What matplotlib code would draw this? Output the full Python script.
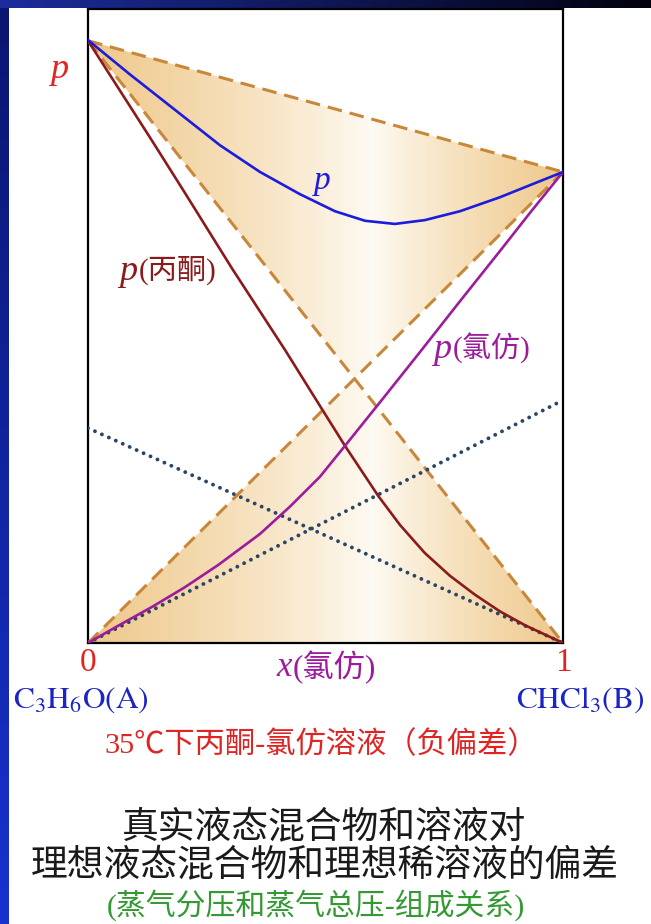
import numpy as np
import matplotlib
matplotlib.use("Agg")
import matplotlib.pyplot as plt
from matplotlib.path import Path
from matplotlib.patches import PathPatch
from matplotlib.colors import to_rgb

# ---------------- data (p in % of frame height, x = mole fraction of CHCl3) -------------
pA_star = 95.0      # pure acetone
pB_star = 74.3      # pure chloroform
kA_henry = 33.9     # Henry line for acetone (value at x=0)
kB_henry = 38.3     # Henry line for chloroform (value at x=1)

x_total = [0.0, 0.088, 0.183, 0.278, 0.362, 0.446, 0.520, 0.583, 0.646, 0.709, 0.783, 0.867, 0.930, 1.0]
p_total = [95.1, 89.7, 84.1, 78.5, 74.3, 70.8, 68.1, 66.6, 66.1, 66.7, 68.1, 70.3, 72.2, 74.3]

x_acet = [0.0, 0.135, 0.204, 0.303, 0.415, 0.495, 0.541, 0.611, 0.657, 0.709, 0.762, 0.815, 0.867, 0.920, 1.0]
p_acet = [95.0, 79.2, 71.0, 59.1, 46.2, 36.6, 31.1, 23.2, 18.6, 14.2, 10.6, 7.6, 5.0, 2.8, 0.0]

x_chlf = [0.0, 0.063, 0.135, 0.204, 0.274, 0.362, 0.425, 0.488, 0.541, 0.615, 0.699, 0.783, 0.867, 0.930, 1.0]
p_chlf = [0.0, 2.7, 5.7, 8.8, 12.3, 17.2, 21.5, 26.2, 31.1, 38.0, 45.9, 53.9, 61.8, 67.8, 74.3]

W, H = 651, 924
fig = plt.figure(figsize=(W / 100, H / 100), dpi=100)
fig.patch.set_facecolor("white")

# ---------------- slide border bands ----------------
ax_top = fig.add_axes([0, 1 - 8 / H, 1, 8 / H])
g = np.linspace(0, 1, 256)
c1, c2 = np.array(to_rgb("#1c2c9c")), np.array(to_rgb("#02020e"))
ax_top.imshow((c1[None, :] * (1 - g[:, None]) + c2[None, :] * g[:, None])[None, :, :],
              aspect="auto", extent=[0, 1, 0, 1])
ax_top.axis("off")
ax_left = fig.add_axes([0, 0, 9 / W, 1 - 8 / H])
c3, c4 = np.array(to_rgb("#0a1670")), np.array(to_rgb("#1832d0"))
ax_left.imshow((c3[None, :] * (1 - g[:, None]) + c4[None, :] * g[:, None])[:, None, :],
               aspect="auto", extent=[0, 1, 0, 1])
ax_left.axis("off")

# ---------------- main axes ----------------
ax = fig.add_axes([88 / W, 1 - 643 / H, 475 / W, 634 / H])
ax.set_xlim(0, 1)
ax.set_ylim(0, 100)
ax.set_xticks([])
ax.set_yticks([])
for s in ax.spines.values():
    s.set_linewidth(1.6)
    s.set_color("black")

# ideal lines crossing
xc = pA_star / (pA_star + pB_star)
pc = pB_star * xc

# shaded regions (gradient clipped to the two triangles)
verts_up = [(0, pA_star), (1, pB_star), (xc, pc), (0, pA_star)]
verts_lo = [(0, 0), (xc, pc), (1, 0), (0, 0)]
path = Path.make_compound_path(Path(verts_up, closed=True), Path(verts_lo, closed=True))
patch = PathPatch(path, transform=ax.transData, facecolor="none", edgecolor="none")
ax.add_patch(patch)
xx = np.linspace(0, 1, 400)
yy = np.linspace(0, 1, 200)
XX, YY = np.meshgrid(xx, yy)
cen = 0.60
t = np.where(XX < cen, (cen - XX) / cen, (XX - cen) / (1 - cen))
t = np.clip(t, 0, 1) ** 0.85
edge = np.array(to_rgb("#efc88a"))
mid = np.array(to_rgb("#fefbf4"))
img = mid[None, None, :] * (1 - t[..., None]) + edge[None, None, :] * t[..., None]
im = ax.imshow(img, extent=[0, 1, 0, 100], aspect="auto", origin="lower", zorder=1)
im.set_clip_path(patch)

dash_col = "#c8873a"
dash = (0, (4.8, 2.6))
ax.plot([0, 1], [pA_star, pB_star], color=dash_col, lw=2.2, ls=dash, zorder=3)
ax.plot([0, 1], [pA_star, 0], color=dash_col, lw=2.2, ls=dash, zorder=3)
ax.plot([0, 1], [0, pB_star], color=dash_col, lw=2.2, ls=dash, zorder=3)

# Henry lines (dotted)
dot_col = "#2a4566"
ax.plot([0, 1], [kA_henry, 0], color=dot_col, lw=2.8, ls=(0, (0.01, 1.95)),
        dash_capstyle="round", zorder=4)
ax.plot([0, 1], [0, kB_henry], color=dot_col, lw=2.8, ls=(0, (0.01, 1.95)),
        dash_capstyle="round", zorder=4)

# real curves
ax.plot(x_acet, p_acet, color="#8b1a1a", lw=1.9, zorder=5, solid_joinstyle="round")
ax.plot(x_chlf, p_chlf, color="#9c1c9c", lw=1.9, zorder=5, solid_joinstyle="round")
ax.plot(x_total, p_total, color="#1c1cdc", lw=1.9, zorder=5, solid_joinstyle="round")

# ---------------- texts ----------------
def ftxt(x, y, s, **kw):
    fig.text(x / W, 1 - y / H, s, **kw)

serif_it = dict(family="Liberation Serif", style="italic")
mixed = dict(family=["Liberation Serif", "Noto Sans CJK SC"])

ftxt(59, 70, "p", color="#e52222", fontsize=26, ha="center", va="center", **serif_it)
ftxt(322, 181, "p", color="#1c1cdc", fontsize=24, ha="center", va="center", **serif_it)

ftxt(119, 272, "p", color="#8b1a1a", fontsize=26, ha="left", va="center", **serif_it)
ftxt(139, 270, "(丙酮)", color="#8b1a1a", fontsize=21, ha="left", va="center", **mixed)

ftxt(433, 350, "p", color="#9c1c9c", fontsize=26, ha="left", va="center", **serif_it)
ftxt(453, 348, "(氯仿)", color="#9c1c9c", fontsize=21, ha="left", va="center", **mixed)

ftxt(88, 663, "0", color="#e52222", fontsize=24, ha="center", va="center", family="Liberation Serif")
ftxt(563, 663, "1", color="#e52222", fontsize=24, ha="center", va="center", family="Liberation Serif")
ftxt(276, 667, "x", color="#9c1c9c", fontsize=25, ha="left", va="center", **serif_it)
ftxt(293, 667, "(氯仿)", color="#9c1c9c", fontsize=22.5, ha="left", va="center", **mixed)

plt.rcParams["mathtext.fontset"] = "stix"
ftxt(81, 700, r"$\mathrm{C_3H_6O(A)}$", color="#1c24c4", fontsize=22.5, ha="center", va="center")
ftxt(580, 700, r"$\mathrm{CHCl_3(B)}$", color="#1c24c4", fontsize=22.5, ha="center", va="center")

ftxt(321, 745, "35℃下丙酮-氯仿溶液（负偏差）", color="#e02424", fontsize=21.8,
     ha="center", va="center", **mixed)

ftxt(324, 828, "真实液态混合物和溶液对", color="#1a1a1a", fontsize=26.5,
     ha="center", va="center", family="Noto Sans CJK SC", weight="light")
ftxt(325, 866, "理想液态混合物和理想稀溶液的偏差", color="#1a1a1a", fontsize=26.5,
     ha="center", va="center", family="Noto Sans CJK SC", weight="light")
ftxt(316, 905, "(蒸气分压和蒸气总压-组成关系)", color="#339933", fontsize=21.5,
     ha="center", va="center", **mixed)

fig.savefig("out.png", dpi=100, facecolor="white")
